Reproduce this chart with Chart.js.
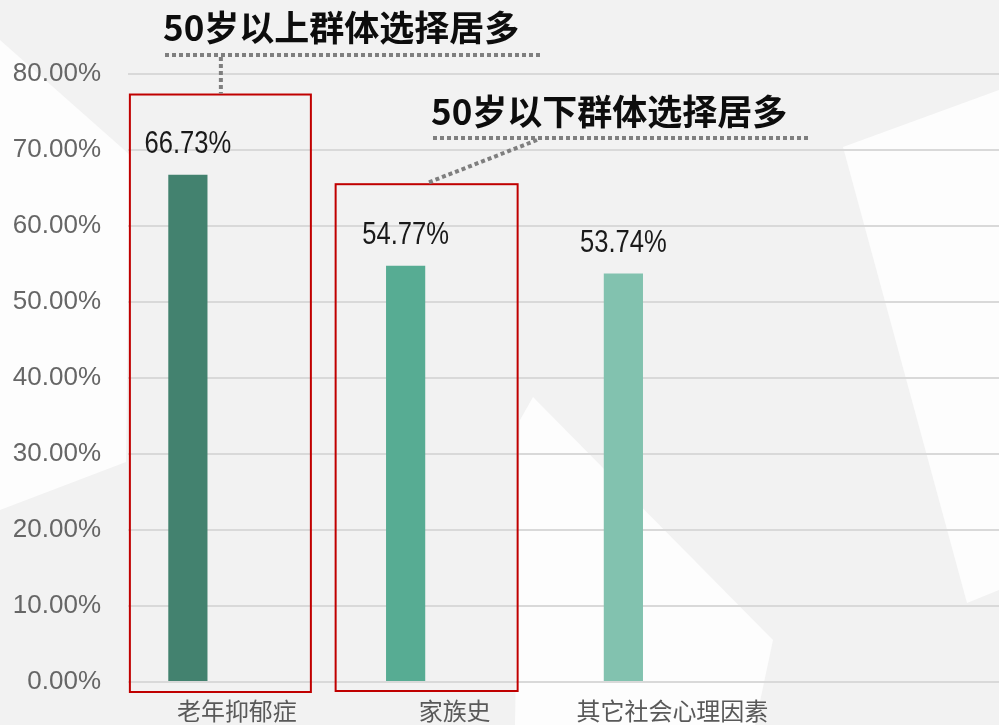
<!DOCTYPE html>
<html lang="zh-CN">
  <head>
    <meta charset="utf-8" />
    <title>老年抑郁症相关因素</title>
    <style>
      * {
        margin: 0;
        padding: 0;
      }
      body {
        background: #f2f2f2;
      }
      .chartBox {
        width: 999px;
        height: 725px;
      }
    </style>
  </head>
  <body>
    <div class="chartBox">
      <canvas id="myChart"></canvas>
    </div>

    <script src="https://cdn.jsdelivr.net/npm/chart.js"></script>

    <script>
      // data
      const categories = ["老年抑郁症", "家族史", "其它社会心理因素"];
      const shares = [66.73, 54.77, 53.74];
      const barColors = ["#43826f", "#57ac93", "#82c2af"];
      const yTicks = [0, 10, 20, 30, 40, 50, 60, 70, 80];
      const notes = ["50岁以上群体选择居多", "50岁以下群体选择居多"];

      const latin = "'Liberation Sans', Arial, sans-serif";
      const cjk = "'Noto Sans CJK SC', sans-serif";

      // light low-poly style backdrop
      const backdrop = {
        id: "backdrop",
        beforeDraw(chart) {
          const { ctx, width, height } = chart;
          ctx.save();
          ctx.fillStyle = "#f2f2f2";
          ctx.fillRect(0, 0, width, height);
          ctx.fillStyle = "#fdfdfd";
          const polys = [
            [[0, 40], [130, 155], [126, 462], [0, 510]],
            [[843, 147], [999, 90], [999, 590], [967, 603]],
            [[533, 397], [773, 640], [755, 725], [515, 725], [520, 420]],
          ];
          polys.forEach((p) => {
            ctx.beginPath();
            ctx.moveTo(p[0][0], p[0][1]);
            p.slice(1).forEach((pt) => ctx.lineTo(pt[0], pt[1]));
            ctx.closePath();
            ctx.fill();
          });
          ctx.restore();
        },
      };

      // value labels above bars (squeezed to look like a narrow face)
      const valueLabels = {
        id: "valueLabels",
        afterDatasetsDraw(chart) {
          const { ctx } = chart;
          const meta = chart.getDatasetMeta(0);
          ctx.save();
          ctx.font = "32px " + latin;
          ctx.fillStyle = "#1a1a1a";
          ctx.textAlign = "center";
          ctx.textBaseline = "alphabetic";
          meta.data.forEach((bar, i) => {
            ctx.save();
            ctx.translate(bar.x, bar.y - 22);
            ctx.scale(0.8, 1);
            ctx.fillText(shares[i].toFixed(2) + "%", 0, 0);
            ctx.restore();
          });
          ctx.restore();
        },
      };

      // red boxes + dotted callouts
      const callouts = {
        id: "callouts",
        afterDraw(chart) {
          const { ctx } = chart;
          const y = chart.scales.y;
          const bars = chart.getDatasetMeta(0).data;
          const b1 = bars[0].x;
          const b2 = bars[1].x;
          const top1 = y.getPixelForValue(77.3);
          const top2 = y.getPixelForValue(65.5);

          ctx.save();
          ctx.strokeStyle = "#c00000";
          ctx.lineWidth = 2;
          ctx.strokeRect(b1 - 58, top1, 181, y.bottom + 10 - top1);
          ctx.strokeRect(b2 - 70, top2, 182, y.bottom + 9 - top2);

          ctx.strokeStyle = "#7f7f7f";
          ctx.lineWidth = 4;
          ctx.setLineDash([4, 3]);
          const seg = (x1, y1, x2, y2) => {
            ctx.beginPath();
            ctx.moveTo(x1, y1);
            ctx.lineTo(x2, y2);
            ctx.stroke();
          };
          seg(165, 55, 540, 55);
          seg(b1 + 33, 57, b1 + 33, top1 - 1);
          seg(433, 138, 810, 138);
          seg(537, 140, b2 + 21, top2 - 1);
          ctx.setLineDash([]);

          ctx.font = "bold 35px " + cjk;
          ctx.fillStyle = "#0d0d0d";
          ctx.textAlign = "left";
          ctx.textBaseline = "middle";
          ctx.fillText(notes[0], 163, 28);
          ctx.fillText(notes[1], 431, 112);
          ctx.restore();
        },
      };

      const config = {
        type: "bar",
        data: {
          labels: [...categories, ""],
          datasets: [
            {
              label: "选择比例",
              data: shares,
              backgroundColor: barColors,
              categoryPercentage: 0.9,
              barPercentage: 0.4,
            },
            {
              label: "",
              data: categories.map(() => null),
              categoryPercentage: 0.9,
              barPercentage: 0.4,
            },
          ],
        },
        options: {
          responsive: true,
          maintainAspectRatio: false,
          animation: false,
          layout: {
            padding: { top: 74, right: 0, bottom: 0, left: 0 },
          },
          plugins: {
            legend: { display: false },
            tooltip: { enabled: false },
          },
          scales: {
            x: {
              grid: { display: false, drawTicks: false },
              border: { display: false },
              ticks: {
                padding: 14,
                color: "#595959",
                font: { family: cjk, size: 24 },
              },
              afterFit(scale) {
                scale.height = 43;
              },
            },
            y: {
              min: yTicks[0],
              max: yTicks[yTicks.length - 1],
              grid: { color: "#d9d9d9", lineWidth: 2, drawTicks: false },
              border: { display: false },
              afterBuildTicks(scale) {
                scale.ticks = yTicks.map((v) => ({ value: v }));
              },
              ticks: {
                padding: 27,
                color: "#666666",
                font: { family: latin, size: 26 },
                callback: (v) => v.toFixed(2) + "%",
              },
              afterFit(scale) {
                scale.width = 128;
              },
            },
          },
        },
        plugins: [backdrop, valueLabels, callouts],
      };

      const myChart = new Chart(document.getElementById("myChart"), config);
    </script>
  </body>
</html>
